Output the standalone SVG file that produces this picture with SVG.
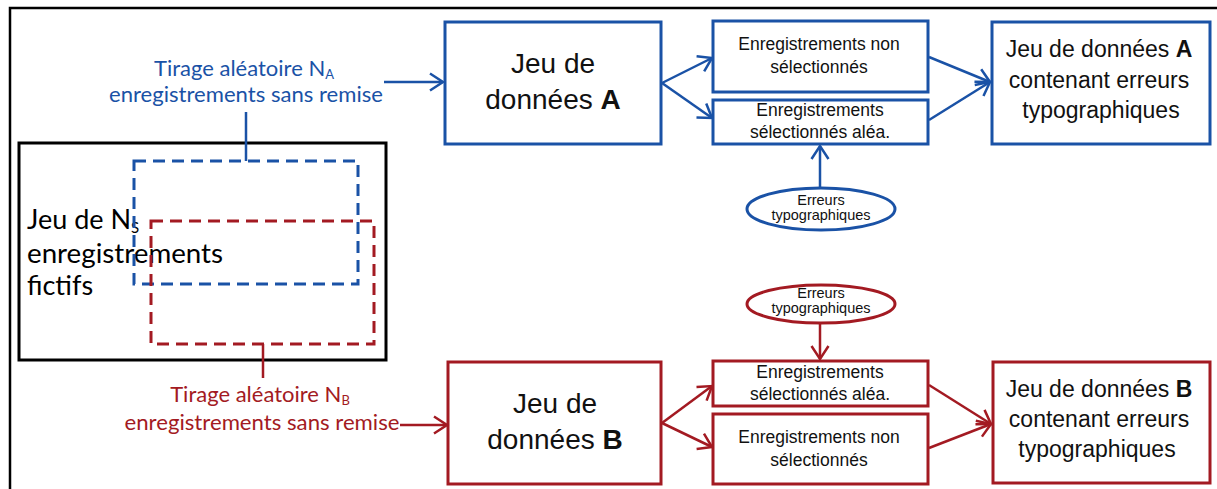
<svg xmlns="http://www.w3.org/2000/svg" width="1217" height="489" viewBox="0 0 1217 489">
<style>
.bl{fill:none;stroke:#1A52A6;stroke-width:3}
.rd{fill:none;stroke:#A31A22;stroke-width:3}
.cb{fill:none;stroke:#1A52A6;stroke-width:2.5}
.cr{fill:none;stroke:#A31A22;stroke-width:2.5}
.ar{font-family:"Liberation Sans",Arial,sans-serif;fill:#111}
.cal{font-family:Lato,"Liberation Sans",sans-serif}
</style>
<defs>
<marker id="mb" markerUnits="userSpaceOnUse" markerWidth="24" markerHeight="24" viewBox="-16 -12 20 24" refX="0" refY="0" orient="auto" overflow="visible">
<path d="M-13,-8.5 L0,0 L-13,8.5" fill="none" stroke="#1A52A6" stroke-width="2.5"/>
</marker>
<marker id="mr" markerUnits="userSpaceOnUse" markerWidth="24" markerHeight="24" viewBox="-16 -12 20 24" refX="0" refY="0" orient="auto" overflow="visible">
<path d="M-13,-8.5 L0,0 L-13,8.5" fill="none" stroke="#A31A22" stroke-width="2.5"/>
</marker>
</defs>
<rect width="1217" height="489" fill="#fff"/>
<path d="M10,489 L10,8 L1217,8" fill="none" stroke="#000" stroke-width="2.5"/>

<g id="population">
<rect x="19" y="143" width="367" height="217" fill="none" stroke="#000" stroke-width="3"/>
<text class="cal" font-size="27" fill="#000"><tspan x="27" y="229">Jeu de N<tspan font-size="15" dy="4">S</tspan></tspan><tspan x="27" y="263" textLength="196" lengthAdjust="spacingAndGlyphs">enregistrements</tspan><tspan x="27" y="295">fictifs</tspan></text>
</g>
<g id="sampleA">
<rect x="134" y="161" width="224" height="123" fill="none" stroke="#1A52A6" stroke-width="3" stroke-dasharray="12 7"/>
</g>
<g id="sampleB">
<rect x="151" y="221" width="223" height="123" fill="none" stroke="#A31A22" stroke-width="3" stroke-dasharray="12 7"/>
</g>

<g id="labelA">
<text class="cal" font-size="22" fill="#1A52A6" text-anchor="middle"><tspan x="244" y="76">Tirage aléatoire N<tspan font-size="13" dy="3">A</tspan></tspan><tspan x="246" y="102" textLength="274" lengthAdjust="spacingAndGlyphs">enregistrements sans remise</tspan></text>
</g>
<g id="labelB">
<text class="cal" font-size="22" fill="#A31A22" text-anchor="middle"><tspan x="260" y="402">Tirage aléatoire N<tspan font-size="13" dy="3">B</tspan></tspan><tspan x="262" y="430" textLength="275" lengthAdjust="spacingAndGlyphs">enregistrements sans remise</tspan></text>
</g>

<g id="jeuA">
<rect class="bl" x="445" y="22" width="216" height="122"/>
<text class="ar" font-size="28" text-anchor="middle"><tspan x="553" y="73">Jeu de</tspan><tspan x="553" y="109">données <tspan font-weight="bold">A</tspan></tspan></text>
</g>
<g id="nonselA">
<rect class="bl" x="713" y="21" width="215" height="71"/>
<text class="ar" font-size="17.5" text-anchor="middle"><tspan x="819" y="50">Enregistrements non</tspan><tspan x="819" y="73">sélectionnés</tspan></text>
</g>
<g id="selA">
<rect class="bl" x="713" y="100" width="215" height="44"/>
<text class="ar" font-size="17.5" text-anchor="middle"><tspan x="820" y="116">Enregistrements</tspan><tspan x="820" y="138">sélectionnés aléa.</tspan></text>
</g>
<g id="errA">
<ellipse class="bl" cx="821" cy="209" rx="74" ry="21"/>
<text class="ar" font-size="14.5" fill="#333" text-anchor="middle"><tspan x="821" y="205">Erreurs</tspan><tspan x="821" y="220">typographiques</tspan></text>
</g>
<g id="finalA">
<rect class="bl" x="992" y="22" width="218" height="122"/>
<text class="ar" font-size="23" text-anchor="middle"><tspan x="1099" y="57">Jeu de données <tspan font-weight="bold">A</tspan></tspan><tspan x="1099" y="88">contenant erreurs</tspan><tspan x="1101" y="118">typographiques</tspan></text>
</g>

<g id="jeuB">
<rect class="rd" x="448" y="362" width="213" height="122"/>
<text class="ar" font-size="28" text-anchor="middle"><tspan x="555" y="413">Jeu de</tspan><tspan x="555" y="449">données <tspan font-weight="bold">B</tspan></tspan></text>
</g>
<g id="selB">
<rect class="rd" x="713" y="361" width="215" height="45"/>
<text class="ar" font-size="17.5" text-anchor="middle"><tspan x="820" y="378">Enregistrements</tspan><tspan x="820" y="400">sélectionnés aléa.</tspan></text>
</g>
<g id="nonselB">
<rect class="rd" x="713" y="414" width="215" height="70"/>
<text class="ar" font-size="17.5" text-anchor="middle"><tspan x="819" y="443">Enregistrements non</tspan><tspan x="819" y="466">sélectionnés</tspan></text>
</g>
<g id="errB">
<ellipse class="rd" cx="821" cy="304" rx="74" ry="19"/>
<text class="ar" font-size="14.5" fill="#333" text-anchor="middle"><tspan x="821" y="298">Erreurs</tspan><tspan x="821" y="313">typographiques</tspan></text>
</g>
<g id="finalB">
<rect class="rd" x="993" y="362" width="217" height="121"/>
<text class="ar" font-size="23" text-anchor="middle"><tspan x="1099" y="397">Jeu de données <tspan font-weight="bold">B</tspan></tspan><tspan x="1099" y="427">contenant erreurs</tspan><tspan x="1097" y="457">typographiques</tspan></text>
</g>

<g id="connectors">
<line class="cb" x1="246" y1="112" x2="246" y2="161"/>
<line class="cb" x1="384" y1="82" x2="443" y2="82" marker-end="url(#mb)"/>
<line class="cb" x1="662" y1="83" x2="712" y2="58" marker-end="url(#mb)"/>
<line class="cb" x1="662" y1="83" x2="712" y2="118" marker-end="url(#mb)"/>
<line class="cb" x1="929" y1="57" x2="990" y2="82" marker-end="url(#mb)"/>
<line class="cb" x1="929" y1="120" x2="990" y2="82" marker-end="url(#mb)"/>
<line class="cb" x1="820" y1="188" x2="820" y2="146" marker-end="url(#mb)"/>
<line class="cr" x1="263" y1="344" x2="263" y2="378"/>
<line class="cr" x1="400" y1="425" x2="447" y2="425" marker-end="url(#mr)"/>
<line class="cr" x1="662" y1="423" x2="712" y2="386" marker-end="url(#mr)"/>
<line class="cr" x1="662" y1="423" x2="712" y2="447" marker-end="url(#mr)"/>
<line class="cr" x1="929" y1="385" x2="991" y2="424" marker-end="url(#mr)"/>
<line class="cr" x1="929" y1="448" x2="991" y2="424" marker-end="url(#mr)"/>
<line class="cr" x1="820" y1="323" x2="820" y2="359" marker-end="url(#mr)"/>
</g>
</svg>
